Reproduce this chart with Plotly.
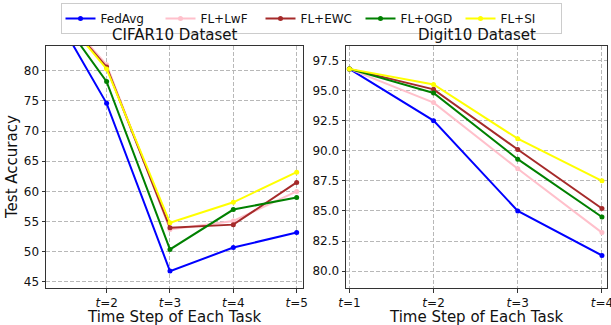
import plotly.graph_objects as go

# ---- data ----
cifar_steps = [1, 2, 3, 4, 5]
digit_steps = [1, 2, 3, 4]

cifar_fedavg = [92.8, 74.6, 46.8, 50.7, 53.2]
cifar_lwf    = [92.8, 81.0, 53.7, 55.1, 60.0]
cifar_ewc    = [92.8, 80.6, 54.0, 54.5, 61.5]
cifar_ogd    = [92.8, 78.2, 50.4, 57.0, 59.0]
cifar_si     = [92.8, 80.3, 54.8, 58.2, 63.2]

digit_fedavg = [96.8, 92.5, 85.0, 81.3]
digit_lwf    = [96.8, 94.0, 88.5, 83.2]
digit_ewc    = [96.8, 95.1, 90.1, 85.2]
digit_ogd    = [96.8, 94.8, 89.3, 84.5]
digit_si     = [96.8, 95.5, 91.0, 87.5]

series_names = ["FedAvg", "FL+LwF", "FL+EWC", "FL+OGD", "FL+SI"]
series_colors = ["#0000FF", "#FFC0CB", "#A52A2A", "#008000", "#FFFF00"]

cifar_ticks = [2, 3, 4, 5]
digit_ticks = [1, 2, 3, 4]
cifar_yticks = [45, 50, 55, 60, 65, 70, 75, 80]
digit_yticks = [80.0, 82.5, 85.0, 87.5, 90.0, 92.5, 95.0, 97.5]

FONT = "DejaVu Sans"
W, H = 611, 325
T, B = 46, 37
PH = H - T - B

fig = go.Figure()
cifar_all = [cifar_fedavg, cifar_lwf, cifar_ewc, cifar_ogd, cifar_si]
digit_all = [digit_fedavg, digit_lwf, digit_ewc, digit_ogd, digit_si]
for name, color, cv, dv in zip(series_names, series_colors, cifar_all, digit_all):
    fig.add_trace(go.Scatter(x=cifar_steps, y=cv, mode="lines+markers", name=name,
                             line=dict(color=color, width=2), marker=dict(color=color, size=5),
                             xaxis="x", yaxis="y", legendgroup=name, showlegend=True,
                             cliponaxis=True))
    fig.add_trace(go.Scatter(x=digit_steps, y=dv, mode="lines+markers", name=name,
                             line=dict(color=color, width=2), marker=dict(color=color, size=5),
                             xaxis="x2", yaxis="y2", legendgroup=name, showlegend=False,
                             cliponaxis=True))

axis_common = dict(showline=True, linecolor="#333333", linewidth=1, mirror=True,
                   ticks="outside", ticklen=3.5, tickcolor="#333333", automargin=False,
                   ticklabeloverflow="allow",
                   showgrid=True, gridcolor="#b8b8b8", griddash="4px,2px", gridwidth=1,
                   zeroline=False, tickfont=dict(family=FONT, size=12, color="#111"))

left_dom = [46 / W, 303 / W]
right_dom = [346 / W, 607 / W]
xtitle_y = -(316.5 - (H - B)) / PH

fig.update_layout(
    width=W, height=H,
    margin=dict(l=0, r=0, t=T, b=B, autoexpand=False),
    plot_bgcolor="white", paper_bgcolor="white",
    font=dict(family=FONT, color="#111"),
    xaxis=dict(domain=left_dom, range=[1.043, 5.1], tickmode="array",
               tickvals=cifar_ticks, ticktext=[f"<i>t</i>={t}" for t in cifar_ticks],
               **axis_common),
    yaxis=dict(domain=[0, 1], range=[44.0, 84.1], tickmode="array", tickvals=cifar_yticks,
               ticktext=[str(v) for v in cifar_yticks],
               **axis_common),
    xaxis2=dict(domain=right_dom, range=[0.96, 4.06], tickmode="array",
                tickvals=digit_ticks, ticktext=[f"<i>t</i>={t}" for t in digit_ticks],
                anchor="y2", **axis_common),
    yaxis2=dict(domain=[0, 1], range=[78.6, 98.7], tickmode="array", tickvals=digit_yticks,
                ticktext=[f"{v:.1f}" for v in digit_yticks], anchor="x2",
                **axis_common),
    legend=dict(orientation="h", x=311 / W, xanchor="center", y=1 + (T - 3) / PH, yanchor="top",
                bordercolor="#cccccc", borderwidth=1, font=dict(family=FONT, size=12),
                entrywidth=55, entrywidthmode="pixels", itemwidth=30,
                tracegroupgap=0),
    annotations=[
        dict(text="CIFAR10 Dataset", x=sum(left_dom) / 2, xref="paper", xanchor="center",
             y=1.0, yref="paper", yanchor="bottom", showarrow=False, yshift=0,
             font=dict(size=15)),
        dict(text="Digit10 Dataset", x=sum(right_dom) / 2, xref="paper", xanchor="center",
             y=1.0, yref="paper", yanchor="bottom", showarrow=False, yshift=0,
             font=dict(size=15)),
        dict(text="Time Step of Each Task", x=sum(left_dom) / 2, xref="paper", xanchor="center",
             y=xtitle_y, yref="paper", yanchor="middle", showarrow=False,
             font=dict(size=15)),
        dict(text="Time Step of Each Task", x=sum(right_dom) / 2, xref="paper", xanchor="center",
             y=xtitle_y, yref="paper", yanchor="middle", showarrow=False,
             font=dict(size=15)),
        dict(text="Test Accuracy", x=12 / W, xref="paper", xanchor="center",
             y=0.5, yref="paper", yanchor="middle", textangle=-90, showarrow=False,
             font=dict(size=15)),
    ],
)

fig.write_html("out.html")
